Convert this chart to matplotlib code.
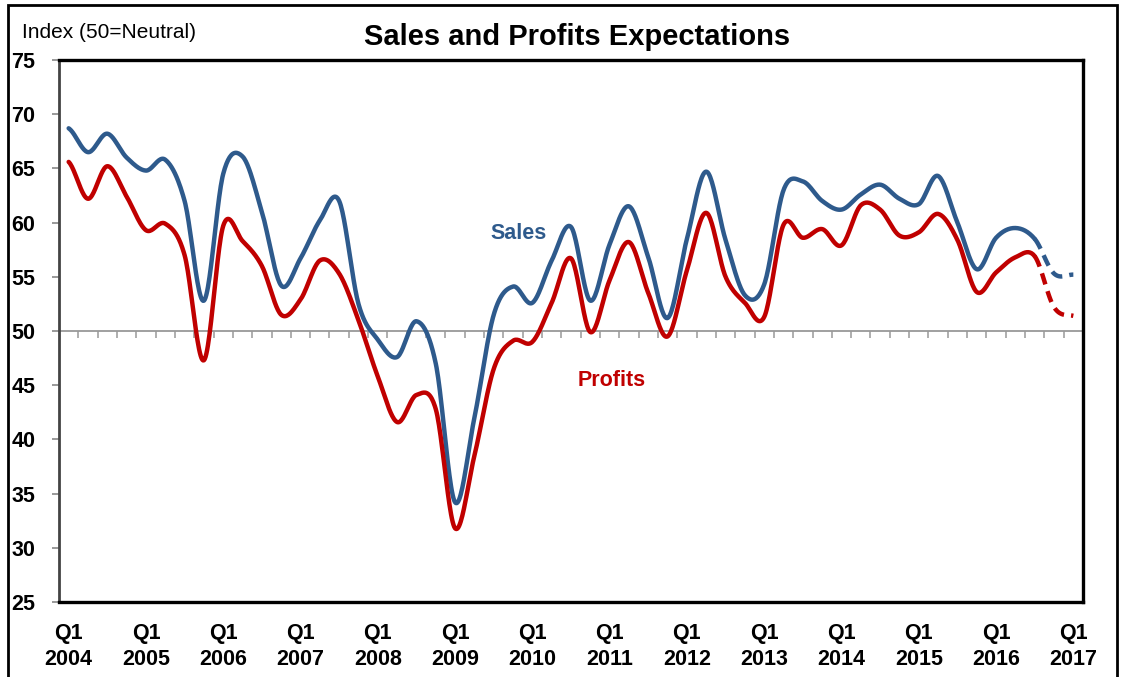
import numpy as np
import matplotlib
matplotlib.use("Agg")
import matplotlib.pyplot as plt
import matplotlib.font_manager as fm
from matplotlib.patches import Rectangle

# data (quarterly, Q1 2004 .. Q1 2017), last 2 quarters are expectations (dashed)
sales = [68.7, 66.5, 68.2, 66.0, 64.8, 65.8, 62.0, 52.8, 64.5, 66.1,
         61.0, 54.2, 56.7, 60.2, 62.0, 52.5, 49.2, 47.6, 50.9, 47.0,
         34.2, 42.0, 51.5, 54.1, 52.6, 56.5, 59.6, 52.8, 58.0, 61.5,
         56.8, 51.2, 58.5, 64.7, 58.4, 53.3, 54.3, 63.0, 63.8, 62.0,
         61.2, 62.6, 63.5, 62.2, 61.7, 64.3, 60.0, 55.7, 58.6, 59.5,
         58.5, 55.3, 55.2]
profits = [65.6, 62.2, 65.2, 62.4, 59.3, 59.9, 57.0, 47.3, 59.7, 58.3,
           56.0, 51.5, 52.9, 56.5, 55.3, 51.0, 45.8, 41.6, 44.1, 42.8,
           31.8, 38.5, 46.5, 49.1, 49.0, 52.6, 56.7, 49.9, 54.7, 58.2,
           53.5, 49.5, 55.6, 60.9, 55.0, 52.6, 51.3, 59.8, 58.6, 59.4,
           57.9, 61.6, 61.2, 58.8, 59.1, 60.8, 58.4, 53.6, 55.4, 56.8,
           56.9, 52.2, 51.4]
years = list(range(2004, 2018))
forecast_start = 50

blue = "#2E5A8C"
red = "#C00000"

# reference uses Arial Narrow; use it if there is one, otherwise Arial-metric font a bit smaller
names = {f.name for f in fm.fontManager.ttflist}
if "Liberation Sans Narrow" in names:
    NARROW = ["Liberation Sans Narrow", "DejaVu Sans"]
    nsize = 17.5
else:
    NARROW = ["Liberation Sans", "DejaVu Sans"]
    nsize = 15
REGULAR = ["Liberation Sans", "DejaVu Sans"]


def smooth(vals, n=24):
    # excel-like smoothed line (bezier through points, catmull-rom tangents)
    p = np.array(vals, dtype=float)
    pad = np.concatenate([[p[0]], p, [p[-1]]])
    xs, ys = [], []
    t = np.linspace(0, 1, n, endpoint=False)
    for i in range(len(p) - 1):
        p0, p1, p2, p3 = pad[i], pad[i + 1], pad[i + 2], pad[i + 3]
        c1 = p1 + (p2 - p0) / 6
        c2 = p2 - (p3 - p1) / 6
        y = (1 - t) ** 3 * p1 + 3 * (1 - t) ** 2 * t * c1 + 3 * (1 - t) * t ** 2 * c2 + t ** 3 * p2
        xs.append(i + t)
        ys.append(y)
    xs.append([len(p) - 1])
    ys.append([p[-1]])
    return np.concatenate(xs), np.concatenate(ys)


fig = plt.figure(figsize=(11.23, 6.77), dpi=100)
ax = fig.add_axes([59 / 1123, 1 - 602 / 677, (1083 - 59) / 1123, (602 - 60) / 677])

for vals, col in [(sales, blue), (profits, red)]:
    sx, sy = smooth(vals)
    solid = sx <= forecast_start
    dashed = sx >= forecast_start
    ax.plot(sx[solid], sy[solid], color=col, lw=3.2, solid_capstyle="round", zorder=3)
    ax.plot(sx[dashed], sy[dashed], color=col, lw=3.2, ls=(0, (2.6, 1.6)),
            dash_capstyle="butt", zorder=3)

# neutral line with small quarter ticks
ax.axhline(50, color="#999999", lw=1.3, zorder=1)
ax.vlines(np.arange(0.5, len(sales) - 0.5, 1), 49.35, 50, color="#999999", lw=1.1, zorder=1)

ax.set_xlim(-0.5, len(sales) - 0.5)
ax.set_ylim(25, 75)
ax.set_yticks(range(25, 80, 5))
ax.set_xticks(range(0, len(sales), 4))
ax.set_xticklabels(["Q1\n%d" % y for y in years], linespacing=1.35)

ax.tick_params(axis="y", length=5, width=1.2, color="#888888", pad=12)
ax.tick_params(axis="x", length=0, pad=15)
for lab in ax.get_xticklabels() + ax.get_yticklabels():
    lab.set_family(NARROW)
    lab.set_fontweight("bold")
    lab.set_fontsize(nsize + 0.5)

for s in ["top", "right", "bottom"]:
    ax.spines[s].set_color("black")
    ax.spines[s].set_linewidth(2.4)
ax.spines["left"].set_color("#444444")
ax.spines["left"].set_linewidth(2)

ax.text(23.3, 59.0, "Sales", color=blue, fontsize=nsize + 0.5, fontweight="bold", family=NARROW,
        ha="center", va="center")
ax.text(28.1, 45.4, "Profits", color=red, fontsize=nsize + 0.5, fontweight="bold", family=NARROW,
        ha="center", va="center")

fig.text(577 / 1123, 1 - 37 / 677, "Sales and Profits Expectations", fontsize=21,
         fontweight="bold", family=REGULAR, ha="center", va="center")
fig.text(22 / 1123, 1 - 32 / 677, "Index (50=Neutral)", fontsize=nsize, family=NARROW,
         ha="left", va="center")

# outer frame
fig.patches.append(Rectangle((8 / 1123, -0.02), (1117 - 8) / 1123, 1.02 - 5 / 677,
                             transform=fig.transFigure, fill=False, ec="black", lw=2))

fig.savefig("out.png", dpi=100)
